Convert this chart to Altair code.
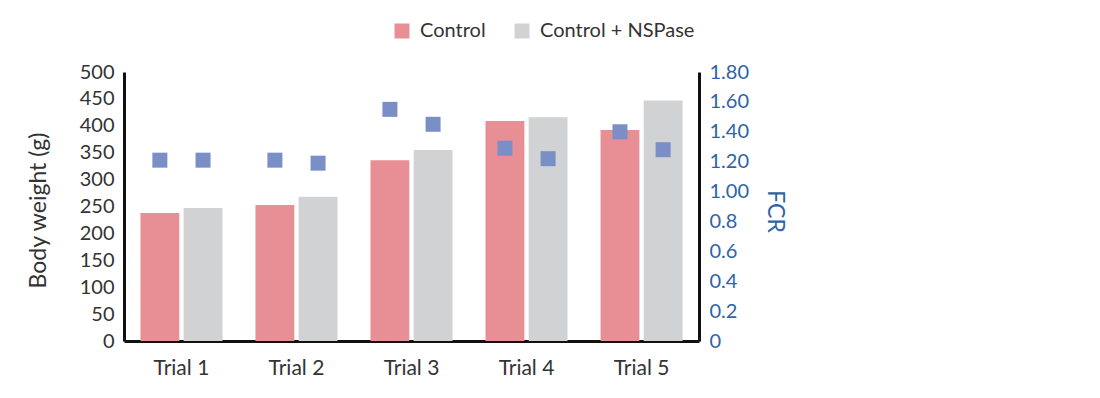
import altair as alt
import pandas as pd

trials = ["Trial 1", "Trial 2", "Trial 3", "Trial 4", "Trial 5"]
groups = ["Control", "Control + NSPase"]
control_bw = [238, 253, 336, 409, 392]
nspase_bw = [247, 268, 355, 416, 447]
control_fcr = [1.21, 1.21, 1.55, 1.29, 1.40]
nspase_fcr = [1.21, 1.19, 1.45, 1.22, 1.28]

rows = []
for i, t in enumerate(trials):
    rows.append({"Trial": t, "Group": groups[0], "BW": control_bw[i], "FCR": control_fcr[i]})
    rows.append({"Trial": t, "Group": groups[1], "BW": nspase_bw[i], "FCR": nspase_fcr[i]})
df = pd.DataFrame(rows)

FONT = "Lato"
TXT = "#333333"
BLUE = "#2f63a6"

x_enc = alt.X("Trial:N", sort=trials, title=None,
              scale=alt.Scale(paddingInner=0.287, paddingOuter=0.143),
              axis=alt.Axis(labelAngle=0, labelFontSize=21, labelColor=TXT, labelFont=FONT,
                            labelPadding=16, ticks=False, domainColor="#111111",
                            domainWidth=3))
xo_enc = alt.XOffset("Group:N", sort=groups,
                     scale=alt.Scale(paddingInner=0.1, paddingOuter=0))

base = alt.Chart(df)

bars = base.mark_bar().encode(
    x=x_enc,
    xOffset=xo_enc,
    y=alt.Y("BW:Q", title="Body weight (g)",
            scale=alt.Scale(domain=[0, 500], nice=False),
            axis=alt.Axis(values=list(range(0, 501, 50)), grid=False, ticks=False,
                          labelFontSize=20, labelColor=TXT, labelFont=FONT, labelPadding=10,
                          domainColor="#111111", domainWidth=3,
                          titleFontSize=23, titleFont=FONT, titleColor=TXT,
                          titleFontWeight="normal", titleX=-74, titleY=138)),
    color=alt.Color("Group:N", sort=groups,
                    scale=alt.Scale(domain=groups, range=["#e88f95", "#d1d2d4"]),
                    legend=alt.Legend(title=None, orient="none", direction="horizontal",
                                      legendX=268, legendY=-51, symbolType="square",
                                      symbolSize=225, symbolStrokeWidth=0,
                                      labelFontSize=20, labelFont=FONT, labelColor=TXT,
                                      labelOffset=8, columnPadding=26)),
)

points = base.mark_point(shape="square", filled=True, size=225, opacity=1,
                         color="#7a8fc6").encode(
    x=alt.X("Trial:N", sort=trials),
    xOffset=alt.XOffset("Group:N", sort=groups),
    y=alt.Y("FCR:Q", title="FCR",
            scale=alt.Scale(domain=[0, 1.8], nice=False),
            axis=alt.Axis(orient="right",
                          values=[0, 0.2, 0.4, 0.6, 0.8, 1.0, 1.2, 1.4, 1.6, 1.8],
                          labelExpr="datum.value == 0 ? '0' : (datum.value >= 0.99 ? format(datum.value, '.2f') : format(datum.value, '.1f'))",
                          grid=False, ticks=False, labelFontSize=20, labelColor=BLUE,
                          labelFont=FONT, labelPadding=10,
                          domainColor="#111111", domainWidth=3,
                          titleFontSize=23, titleFont=FONT, titleColor=BLUE,
                          titleFontWeight="normal", titleX=63, titleY=139)),
)

chart = alt.layer(bars, points).resolve_scale(y="independent").properties(
    width=575, height=269,
    background="white",
    autosize=alt.AutoSizeParams(type="none"),
    padding={"left": 116, "top": 64, "right": 393, "bottom": 49},
).configure_view(stroke=None)

chart.save("out.html", embed_options={"renderer": "svg", "actions": False})
